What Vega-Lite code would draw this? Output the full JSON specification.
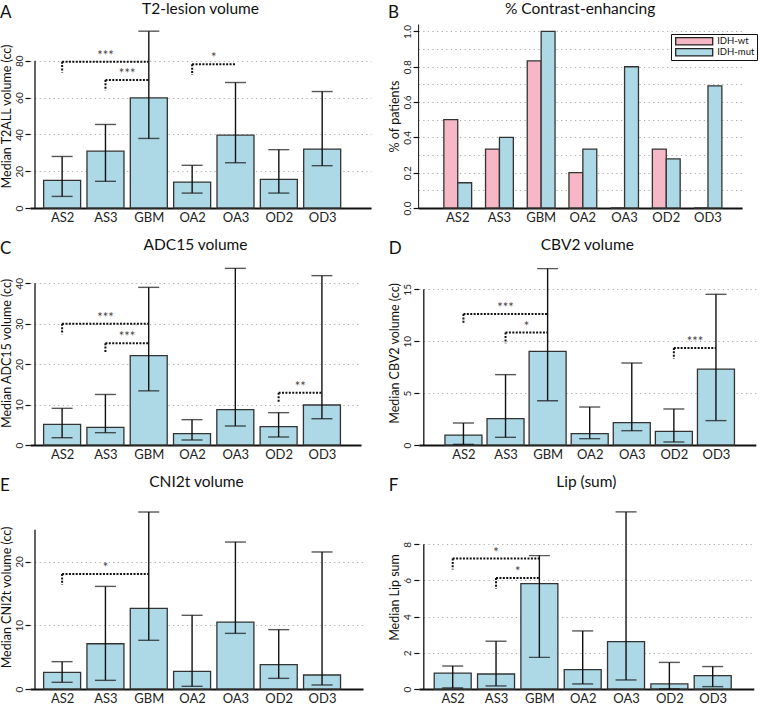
{
"$schema": "https://vega.github.io/schema/vega-lite/v6.json",
"padding": {"left": 0, "top": 1, "right": 0, "bottom": 0},
"background": "white",
"datasets": {
"dA": [
{"group":"AS2","pos":1,"median":15.0,"lo":6.3,"hi":28.0},
{"group":"AS3","pos":2,"median":30.9,"lo":14.5,"hi":45.4},
{"group":"GBM","pos":3,"median":59.9,"lo":37.8,"hi":96.1},
{"group":"OA2","pos":4,"median":14.1,"lo":8.1,"hi":23.2},
{"group":"OA3","pos":5,"median":39.6,"lo":24.6,"hi":68.2},
{"group":"OD2","pos":6,"median":15.6,"lo":8.1,"hi":31.7},
{"group":"OD3","pos":7,"median":32.0,"lo":23.0,"hi":63.3}],
"bA": [
{"from":1,"to":3,"mid":2,"y":79.5,"drop":73.7,"stars":"***"},
{"from":2,"to":3,"mid":2.5,"y":69.6,"drop":63.8,"stars":"***"},
{"from":4,"to":5,"mid":4.5,"y":78.1,"drop":72.3,"stars":"*"}],
"dB": [
{"group":"AS2","status":"IDH-wt","pct":0.5},{"group":"AS2","status":"IDH-mut","pct":0.143},
{"group":"AS3","status":"IDH-wt","pct":0.333},{"group":"AS3","status":"IDH-mut","pct":0.4},
{"group":"GBM","status":"IDH-wt","pct":0.833},{"group":"GBM","status":"IDH-mut","pct":1.0},
{"group":"OA2","status":"IDH-wt","pct":0.2},{"group":"OA2","status":"IDH-mut","pct":0.333},
{"group":"OA3","status":"IDH-wt","pct":0},{"group":"OA3","status":"IDH-mut","pct":0.8},
{"group":"OD2","status":"IDH-wt","pct":0.333},{"group":"OD2","status":"IDH-mut","pct":0.278},
{"group":"OD3","status":"IDH-wt","pct":0},{"group":"OD3","status":"IDH-mut","pct":0.692}],
"dC": [
{"group":"AS2","pos":1,"median":5.1,"lo":1.8,"hi":9.07},
{"group":"AS3","pos":2,"median":4.37,"lo":3.05,"hi":12.5},
{"group":"GBM","pos":3,"median":22.1,"lo":13.4,"hi":39.0},
{"group":"OA2","pos":4,"median":2.8,"lo":1.24,"hi":6.27},
{"group":"OA3","pos":5,"median":8.74,"lo":4.7,"hi":43.7},
{"group":"OD2","pos":6,"median":4.54,"lo":1.98,"hi":8.0},
{"group":"OD3","pos":7,"median":9.9,"lo":6.5,"hi":41.9}],
"bC": [
{"from":1,"to":3,"mid":2,"y":30.0,"drop":27.4,"stars":"***"},
{"from":2,"to":3,"mid":2.5,"y":25.2,"drop":22.7,"stars":"***"},
{"from":6,"to":7,"mid":6.5,"y":12.9,"drop":10.5,"stars":"**"}],
"dD": [
{"group":"AS2","pos":1,"median":0.96,"lo":0.06,"hi":2.12},
{"group":"AS3","pos":2,"median":2.54,"lo":0.74,"hi":6.78},
{"group":"GBM","pos":3,"median":9.03,"lo":4.27,"hi":17.0},
{"group":"OA2","pos":4,"median":1.09,"lo":0.61,"hi":3.66},
{"group":"OA3","pos":5,"median":2.15,"lo":1.38,"hi":7.9},
{"group":"OD2","pos":6,"median":1.32,"lo":0.29,"hi":3.47},
{"group":"OD3","pos":7,"median":7.32,"lo":2.35,"hi":14.52}],
"bD": [
{"from":1,"to":3,"mid":2,"y":12.62,"drop":11.63,"stars":"***"},
{"from":2,"to":3,"mid":2.5,"y":10.83,"drop":9.8,"stars":"*"},
{"from":6,"to":7,"mid":6.5,"y":9.35,"drop":8.32,"stars":"***"}],
"dE": [
{"group":"AS2","pos":1,"median":2.6,"lo":1.05,"hi":4.29},
{"group":"AS3","pos":2,"median":7.1,"lo":1.36,"hi":16.1},
{"group":"GBM","pos":3,"median":12.66,"lo":7.64,"hi":27.77},
{"group":"OA2","pos":4,"median":2.77,"lo":0.42,"hi":11.56},
{"group":"OA3","pos":5,"median":10.5,"lo":8.73,"hi":23.06},
{"group":"OD2","pos":6,"median":3.82,"lo":1.67,"hi":9.31},
{"group":"OD3","pos":7,"median":2.2,"lo":0.63,"hi":21.5}],
"bE": [
{"from":1,"to":3,"mid":2,"y":18.04,"drop":16.37,"stars":"*"}],
"dF": [
{"group":"AS2","pos":1,"median":0.88,"lo":0.06,"hi":1.27},
{"group":"AS3","pos":2,"median":0.83,"lo":0.17,"hi":2.64},
{"group":"GBM","pos":3,"median":5.82,"lo":1.75,"hi":7.37},
{"group":"OA2","pos":4,"median":1.07,"lo":0.28,"hi":3.21},
{"group":"OA3","pos":5,"median":2.62,"lo":0.5,"hi":9.79},
{"group":"OD2","pos":6,"median":0.28,"lo":0.0,"hi":1.47},
{"group":"OD3","pos":7,"median":0.74,"lo":0.13,"hi":1.24}],
"bF": [
{"from":1,"to":3,"mid":2,"y":7.21,"drop":6.6,"stars":"*"},
{"from":2,"to":3,"mid":2.5,"y":6.14,"drop":5.55,"stars":"*"}]
},
"vconcat": [
{"hconcat": [
 {"title": {"text": "A", "anchor": "start", "fontSize": 17, "offset": -20},
  "vconcat": [{
   "width": 341, "height": 184,
   "title": {"text": "T2-lesion volume", "fontSize": 15.5, "anchor": "middle", "frame": "group", "offset": 7},
   "layer": [
    {"data": {"name": "dA"}, "mark": {"type": "bar", "width": 37, "fill": "#ADD8E6", "stroke": "#333", "strokeWidth": 1.3},
     "encoding": {
      "x": {"field": "pos", "type": "quantitative", "scale": {"domain": [0.374, 8.011], "nice": false, "zero": false},
            "axis": {"title": null, "values": [1,2,3,4,5,6,7], "labelExpr": "['AS2','AS3','GBM','OA2','OA3','OD2','OD3'][datum.value - 1]"}},
      "y": {"field": "median", "type": "quantitative", "scale": {"domain": [0, 100], "nice": false},
            "axis": {"title": "Median T2ALL volume (cc)", "values": [0,5,10,15,20,25,30,35,40,45,50,55,60,65,70,75,80,85,90,95],
                     "labelExpr": "datum.value % 20 === 0 && datum.value <= 80 ? datum.label : ''",
                     "tickOpacity": {"condition": {"test": "datum.value % 20 === 0 && datum.value <= 80", "value": 1}, "value": 0}}}}},
    {"data": {"name": "dA"}, "mark": {"type": "rule", "color": "#111", "strokeWidth": 1.4},
     "encoding": {"x": {"field": "pos", "type": "quantitative"}, "y": {"field": "lo", "type": "quantitative"}, "y2": {"field": "hi"}}},
    {"data": {"name": "dA"}, "mark": {"type": "tick", "orient": "horizontal", "size": 21, "thickness": 1.4, "color": "#111"},
     "encoding": {"x": {"field": "pos", "type": "quantitative"}, "y": {"field": "lo", "type": "quantitative"}}},
    {"data": {"name": "dA"}, "mark": {"type": "tick", "orient": "horizontal", "size": 21, "thickness": 1.4, "color": "#111"},
     "encoding": {"x": {"field": "pos", "type": "quantitative"}, "y": {"field": "hi", "type": "quantitative"}}},
    {"data": {"name": "bA"}, "mark": {"type": "rule", "color": "#111", "strokeWidth": 2, "strokeDash": [2, 1.4]},
     "encoding": {"x": {"field": "from", "type": "quantitative"}, "x2": {"field": "to"}, "y": {"field": "y", "type": "quantitative"}}},
    {"data": {"name": "bA"}, "mark": {"type": "rule", "color": "#111", "strokeWidth": 2, "strokeDash": [2, 1.4]},
     "encoding": {"x": {"field": "from", "type": "quantitative"}, "y": {"field": "y", "type": "quantitative"}, "y2": {"field": "drop"}}},
    {"data": {"name": "bA"}, "mark": {"type": "text", "color": "#444", "fontSize": 13, "baseline": "bottom", "dy": 1},
     "encoding": {"x": {"field": "mid", "type": "quantitative"}, "y": {"field": "y", "type": "quantitative"}, "text": {"field": "stars", "type": "nominal"}}},
    {"data": {"values": [{}]}, "mark": {"type": "rule", "color": "#111", "strokeWidth": 1.3},
     "encoding": {"x": {"datum": 0.374, "type": "quantitative"}, "y": {"datum": 0, "type": "quantitative"}, "y2": {"datum": 80}}}
   ]}]},
 {"title": {"text": "B", "anchor": "start", "fontSize": 17, "offset": -20},
  "vconcat": [{
   "width": 324, "height": 184,
   "title": {"text": "% Contrast-enhancing", "fontSize": 15.5, "anchor": "middle", "frame": "group", "offset": 7},
   "layer": [
    {"data": {"name": "dB"}, "mark": {"type": "bar", "stroke": "#333", "strokeWidth": 1.3},
     "encoding": {
      "x": {"field": "group", "type": "nominal", "sort": null, "scale": {"paddingInner": 0.3333, "paddingOuter": 0.551, "align": 0.56},
            "axis": {"title": null, "labelAngle": 0}},
      "xOffset": {"field": "status", "type": "nominal", "sort": ["IDH-wt", "IDH-mut"], "scale": {"paddingInner": 0, "paddingOuter": 0}},
      "y": {"field": "pct", "type": "quantitative", "scale": {"domain": [0, 1.042], "nice": false},
            "axis": {"title": "% of patients", "values": [0,0.1,0.2,0.3,0.4,0.5,0.6,0.7,0.8,0.9,1.0], "format": ".1f", "domain": true,
                     "labelExpr": "round(datum.value * 10) % 2 === 0 ? datum.label : ''",
                     "tickOpacity": {"condition": {"test": "round(datum.value * 10) % 2 === 0", "value": 1}, "value": 0}}},
      "color": {"field": "status", "type": "nominal", "sort": ["IDH-wt", "IDH-mut"],
                "scale": {"domain": ["IDH-wt", "IDH-mut"], "range": ["#F6B8C6", "#ADD8E6"]},
                "legend": {"title": null, "orient": "none", "legendX": 641, "legendY": 10,
                           "symbolType": "M-4.5,-0.9H4.5V0.9H-4.5Z", "symbolSize": 67.6, "symbolOffset": 15.7, "clipHeight": 9.5,
                           "symbolStrokeColor": "#222", "symbolStrokeWidth": 1.3, "strokeColor": "#111", "padding": 2.5,
                           "labelFontSize": 9.5, "labelOffset": 18, "rowPadding": 0, "fillColor": "white"}}}}
   ]}]}
 ], "spacing": 17.1},
{"hconcat": [
 {"title": {"text": "C", "anchor": "start", "fontSize": 17, "offset": -20},
  "vconcat": [{
   "width": 331, "height": 184,
   "title": {"text": "ADC15 volume", "fontSize": 15.5, "anchor": "middle", "frame": "group", "offset": 8},
   "layer": [
    {"data": {"name": "dC"}, "mark": {"type": "bar", "width": 37, "fill": "#ADD8E6", "stroke": "#333", "strokeWidth": 1.3},
     "encoding": {
      "x": {"field": "pos", "type": "quantitative", "scale": {"domain": [0.374, 7.787], "nice": false, "zero": false},
            "axis": {"title": null, "values": [1,2,3,4,5,6,7], "labelExpr": "['AS2','AS3','GBM','OA2','OA3','OD2','OD3'][datum.value - 1]"}},
      "y": {"field": "median", "type": "quantitative", "scale": {"domain": [0, 45.52], "nice": false},
            "axis": {"title": "Median ADC15 volume (cc)", "values": [0,5,10,15,20,25,30,35,40],
                     "labelExpr": "datum.value % 10 === 0 ? datum.label : ''",
                     "tickOpacity": {"condition": {"test": "datum.value % 10 === 0", "value": 1}, "value": 0}}}}},
    {"data": {"name": "dC"}, "mark": {"type": "rule", "color": "#111", "strokeWidth": 1.4},
     "encoding": {"x": {"field": "pos", "type": "quantitative"}, "y": {"field": "lo", "type": "quantitative"}, "y2": {"field": "hi"}}},
    {"data": {"name": "dC"}, "mark": {"type": "tick", "orient": "horizontal", "size": 21, "thickness": 1.4, "color": "#111"},
     "encoding": {"x": {"field": "pos", "type": "quantitative"}, "y": {"field": "lo", "type": "quantitative"}}},
    {"data": {"name": "dC"}, "mark": {"type": "tick", "orient": "horizontal", "size": 21, "thickness": 1.4, "color": "#111"},
     "encoding": {"x": {"field": "pos", "type": "quantitative"}, "y": {"field": "hi", "type": "quantitative"}}},
    {"data": {"name": "bC"}, "mark": {"type": "rule", "color": "#111", "strokeWidth": 2, "strokeDash": [2, 1.4]},
     "encoding": {"x": {"field": "from", "type": "quantitative"}, "x2": {"field": "to"}, "y": {"field": "y", "type": "quantitative"}}},
    {"data": {"name": "bC"}, "mark": {"type": "rule", "color": "#111", "strokeWidth": 2, "strokeDash": [2, 1.4]},
     "encoding": {"x": {"field": "from", "type": "quantitative"}, "y": {"field": "y", "type": "quantitative"}, "y2": {"field": "drop"}}},
    {"data": {"name": "bC"}, "mark": {"type": "text", "color": "#444", "fontSize": 13, "baseline": "bottom", "dy": 1},
     "encoding": {"x": {"field": "mid", "type": "quantitative"}, "y": {"field": "y", "type": "quantitative"}, "text": {"field": "stars", "type": "nominal"}}},
    {"data": {"values": [{}]}, "mark": {"type": "rule", "color": "#111", "strokeWidth": 1.3},
     "encoding": {"x": {"datum": 0.374, "type": "quantitative"}, "y": {"datum": 0, "type": "quantitative"}, "y2": {"datum": 40}}}
   ]}]},
 {"title": {"text": "D", "anchor": "start", "fontSize": 17, "offset": -20},
  "vconcat": [{
   "width": 337, "height": 184,
   "title": {"text": "CBV2 volume", "fontSize": 15.5, "anchor": "middle", "frame": "group", "offset": 8},
   "layer": [
    {"data": {"name": "dD"}, "mark": {"type": "bar", "width": 37, "fill": "#ADD8E6", "stroke": "#333", "strokeWidth": 1.3},
     "encoding": {
      "x": {"field": "pos", "type": "quantitative", "scale": {"domain": [0.058, 7.828], "nice": false, "zero": false},
            "axis": {"title": null, "values": [1,2,3,4,5,6,7], "labelExpr": "['AS2','AS3','GBM','OA2','OA3','OD2','OD3'][datum.value - 1]"}},
      "y": {"field": "median", "type": "quantitative", "scale": {"domain": [0, 17.73], "nice": false},
            "axis": {"title": "Median CBV2 volume (cc)", "values": [0,5,10,15]}}}},
    {"data": {"name": "dD"}, "mark": {"type": "rule", "color": "#111", "strokeWidth": 1.4},
     "encoding": {"x": {"field": "pos", "type": "quantitative"}, "y": {"field": "lo", "type": "quantitative"}, "y2": {"field": "hi"}}},
    {"data": {"name": "dD"}, "mark": {"type": "tick", "orient": "horizontal", "size": 21, "thickness": 1.4, "color": "#111"},
     "encoding": {"x": {"field": "pos", "type": "quantitative"}, "y": {"field": "lo", "type": "quantitative"}}},
    {"data": {"name": "dD"}, "mark": {"type": "tick", "orient": "horizontal", "size": 21, "thickness": 1.4, "color": "#111"},
     "encoding": {"x": {"field": "pos", "type": "quantitative"}, "y": {"field": "hi", "type": "quantitative"}}},
    {"data": {"name": "bD"}, "mark": {"type": "rule", "color": "#111", "strokeWidth": 2, "strokeDash": [2, 1.4]},
     "encoding": {"x": {"field": "from", "type": "quantitative"}, "x2": {"field": "to"}, "y": {"field": "y", "type": "quantitative"}}},
    {"data": {"name": "bD"}, "mark": {"type": "rule", "color": "#111", "strokeWidth": 2, "strokeDash": [2, 1.4]},
     "encoding": {"x": {"field": "from", "type": "quantitative"}, "y": {"field": "y", "type": "quantitative"}, "y2": {"field": "drop"}}},
    {"data": {"name": "bD"}, "mark": {"type": "text", "color": "#444", "fontSize": 13, "baseline": "bottom", "dy": 1},
     "encoding": {"x": {"field": "mid", "type": "quantitative"}, "y": {"field": "y", "type": "quantitative"}, "text": {"field": "stars", "type": "nominal"}}},
    {"data": {"values": [{}]}, "mark": {"type": "rule", "color": "#111", "strokeWidth": 1.3},
     "encoding": {"x": {"datum": 0.058, "type": "quantitative"}, "y": {"datum": 0, "type": "quantitative"}, "y2": {"datum": 15}}}
   ]}]}
 ], "spacing": 27.8},
{"hconcat": [
 {"title": {"text": "E", "anchor": "start", "fontSize": 17, "offset": -20},
  "vconcat": [{
   "width": 333, "height": 184,
   "title": {"text": "CNI2t volume", "fontSize": 15.5, "anchor": "middle", "frame": "group", "offset": 15},
   "layer": [
    {"data": {"name": "dE"}, "mark": {"type": "bar", "width": 37, "fill": "#ADD8E6", "stroke": "#333", "strokeWidth": 1.3},
     "encoding": {
      "x": {"field": "pos", "type": "quantitative", "scale": {"domain": [0.374, 7.83], "nice": false, "zero": false},
            "axis": {"title": null, "values": [1,2,3,4,5,6,7], "labelExpr": "['AS2','AS3','GBM','OA2','OA3','OD2','OD3'][datum.value - 1]"}},
      "y": {"field": "median", "type": "quantitative", "scale": {"domain": [0, 28.87], "nice": false},
            "axis": {"title": "Median CNI2t volume (cc)", "values": [0,5,10,15,20,25]}}}},
    {"data": {"name": "dE"}, "mark": {"type": "rule", "color": "#111", "strokeWidth": 1.4},
     "encoding": {"x": {"field": "pos", "type": "quantitative"}, "y": {"field": "lo", "type": "quantitative"}, "y2": {"field": "hi"}}},
    {"data": {"name": "dE"}, "mark": {"type": "tick", "orient": "horizontal", "size": 21, "thickness": 1.4, "color": "#111"},
     "encoding": {"x": {"field": "pos", "type": "quantitative"}, "y": {"field": "lo", "type": "quantitative"}}},
    {"data": {"name": "dE"}, "mark": {"type": "tick", "orient": "horizontal", "size": 21, "thickness": 1.4, "color": "#111"},
     "encoding": {"x": {"field": "pos", "type": "quantitative"}, "y": {"field": "hi", "type": "quantitative"}}},
    {"data": {"name": "bE"}, "mark": {"type": "rule", "color": "#111", "strokeWidth": 2, "strokeDash": [2, 1.4]},
     "encoding": {"x": {"field": "from", "type": "quantitative"}, "x2": {"field": "to"}, "y": {"field": "y", "type": "quantitative"}}},
    {"data": {"name": "bE"}, "mark": {"type": "rule", "color": "#111", "strokeWidth": 2, "strokeDash": [2, 1.4]},
     "encoding": {"x": {"field": "from", "type": "quantitative"}, "y": {"field": "y", "type": "quantitative"}, "y2": {"field": "drop"}}},
    {"data": {"name": "bE"}, "mark": {"type": "text", "color": "#444", "fontSize": 13, "baseline": "bottom", "dy": 1},
     "encoding": {"x": {"field": "mid", "type": "quantitative"}, "y": {"field": "y", "type": "quantitative"}, "text": {"field": "stars", "type": "nominal"}}},
    {"data": {"values": [{}]}, "mark": {"type": "rule", "color": "#111", "strokeWidth": 1.3},
     "encoding": {"x": {"datum": 0.374, "type": "quantitative"}, "y": {"datum": 0, "type": "quantitative"}, "y2": {"datum": 25}}}
   ]}]},
 {"title": {"text": "F", "anchor": "start", "fontSize": 17, "offset": -20},
  "vconcat": [{
   "width": 335, "height": 184,
   "title": {"text": "Lip (sum)", "fontSize": 15.5, "anchor": "middle", "frame": "group", "offset": 15},
   "layer": [
    {"data": {"name": "dF"}, "mark": {"type": "bar", "width": 37, "fill": "#ADD8E6", "stroke": "#333", "strokeWidth": 1.3},
     "encoding": {
      "x": {"field": "pos", "type": "quantitative", "scale": {"domain": [0.333, 7.833], "nice": false, "zero": false},
            "axis": {"title": null, "values": [1,2,3,4,5,6,7], "labelExpr": "['AS2','AS3','GBM','OA2','OA3','OD2','OD3'][datum.value - 1]"}},
      "y": {"field": "median", "type": "quantitative", "scale": {"domain": [0, 10.17], "nice": false},
            "axis": {"title": "Median Lip sum", "values": [0,1,2,3,4,5,6,7,8,9],
                     "labelExpr": "datum.value % 2 === 0 && datum.value <= 8 ? datum.label : ''",
                     "tickOpacity": {"condition": {"test": "datum.value % 2 === 0 && datum.value <= 8", "value": 1}, "value": 0}}}}},
    {"data": {"name": "dF"}, "mark": {"type": "rule", "color": "#111", "strokeWidth": 1.4},
     "encoding": {"x": {"field": "pos", "type": "quantitative"}, "y": {"field": "lo", "type": "quantitative"}, "y2": {"field": "hi"}}},
    {"data": {"name": "dF"}, "mark": {"type": "tick", "orient": "horizontal", "size": 21, "thickness": 1.4, "color": "#111"},
     "encoding": {"x": {"field": "pos", "type": "quantitative"}, "y": {"field": "lo", "type": "quantitative"}}},
    {"data": {"name": "dF"}, "mark": {"type": "tick", "orient": "horizontal", "size": 21, "thickness": 1.4, "color": "#111"},
     "encoding": {"x": {"field": "pos", "type": "quantitative"}, "y": {"field": "hi", "type": "quantitative"}}},
    {"data": {"name": "bF"}, "mark": {"type": "rule", "color": "#111", "strokeWidth": 2, "strokeDash": [2, 1.4]},
     "encoding": {"x": {"field": "from", "type": "quantitative"}, "x2": {"field": "to"}, "y": {"field": "y", "type": "quantitative"}}},
    {"data": {"name": "bF"}, "mark": {"type": "rule", "color": "#111", "strokeWidth": 2, "strokeDash": [2, 1.4]},
     "encoding": {"x": {"field": "from", "type": "quantitative"}, "y": {"field": "y", "type": "quantitative"}, "y2": {"field": "drop"}}},
    {"data": {"name": "bF"}, "mark": {"type": "text", "color": "#444", "fontSize": 13, "baseline": "bottom", "dy": 1},
     "encoding": {"x": {"field": "mid", "type": "quantitative"}, "y": {"field": "y", "type": "quantitative"}, "text": {"field": "stars", "type": "nominal"}}},
    {"data": {"values": [{}]}, "mark": {"type": "rule", "color": "#111", "strokeWidth": 1.3},
     "encoding": {"x": {"datum": 0.333, "type": "quantitative"}, "y": {"datum": 0, "type": "quantitative"}, "y2": {"datum": 8}}}
   ]}]}
 ], "spacing": 25.8}
],
"spacing": 13,
"config": {
 "font": "Lato",
 "view": {"stroke": null},
 "title": {"font": "Lato", "fontWeight": "normal", "color": "#111"},
 "axis": {"labelFont": "Lato", "titleFont": "Lato", "labelColor": "#222", "titleColor": "#111", "titleFontWeight": "normal",
          "domainColor": "#111", "tickColor": "#111"},
 "axisX": {"ticks": false, "domainWidth": 2, "labelFontSize": 13, "labelPadding": 3, "grid": false, "labelOverlap": false, "labelFlush": false},
 "axisY": {"labelFontSize": 10, "labelAngle": 270, "labelPadding": 1, "tickSize": 5, "tickWidth": 1.2, "titleFontSize": 12.5, "titlePadding": 2,
           "minExtent": 15, "maxExtent": 15,
           "domain": false, "grid": true, "gridDash": [1.2, 3.4], "gridColor": "#aaa", "gridWidth": 1, "labelOverlap": false},
 "legend": {"labelFont": "Lato", "labelColor": "#111"}
}
}
